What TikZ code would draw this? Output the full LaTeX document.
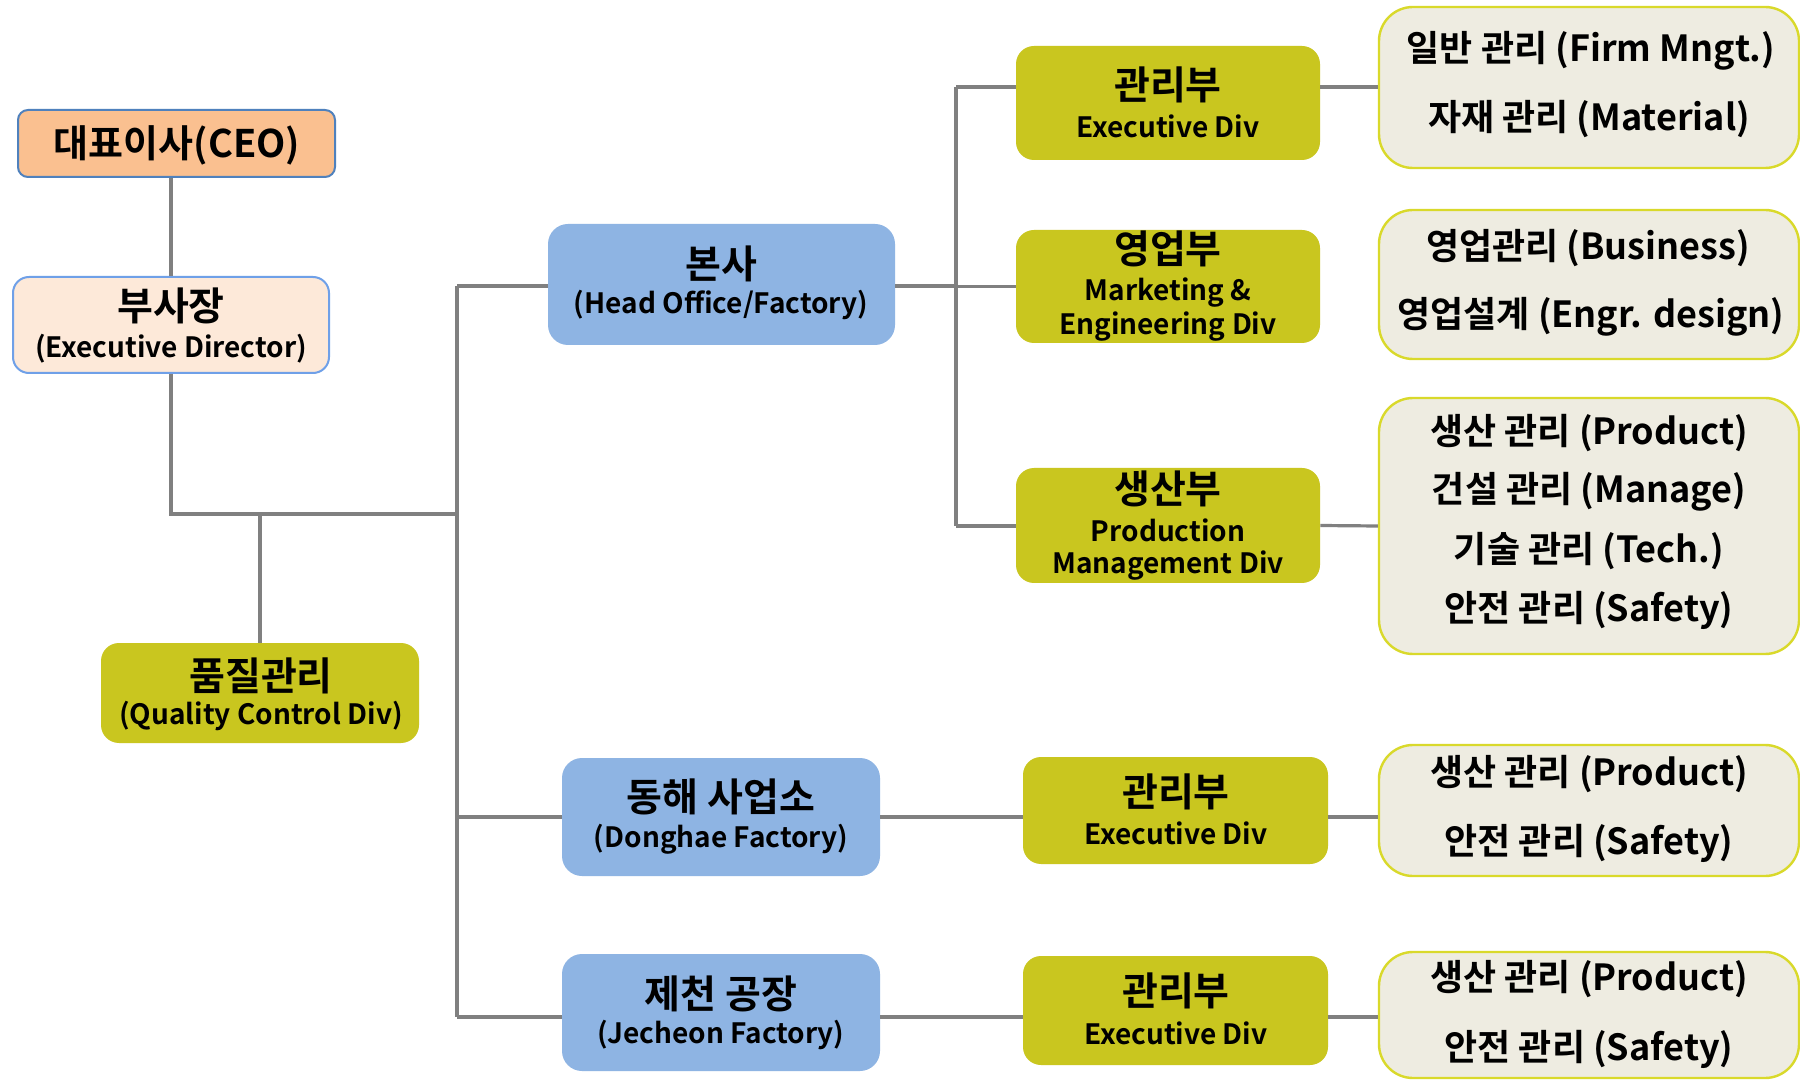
\documentclass[tikz,border=0pt]{standalone}
\usepackage{fontspec}
\setmainfont{Noto Sans CJK KR}[BoldFont={Noto Sans CJK KR Bold}]
\definecolor{ceofill}{HTML}{FAC090}
\definecolor{ceoline}{HTML}{4F81BD}
\definecolor{vpfill}{HTML}{FDE9D9}
\definecolor{vpline}{HTML}{6FA0E8}
\definecolor{bluefill}{HTML}{8EB4E3}
\definecolor{olive}{HTML}{C9C61F}
\definecolor{beige}{HTML}{EEECE1}
\definecolor{yline}{HTML}{D9D92B}
\definecolor{linegray}{HTML}{808080}
\tikzset{
  sz/.style 2 args={minimum width=#1*0.5pt, minimum height=#2*0.5pt},
  boxbase/.style={rectangle, inner sep=0pt},
  ceobox/.style={boxbase, fill=ceofill, draw=ceoline, line width=1pt, rounded corners=5pt},
  vpbox/.style={boxbase, fill=vpfill, draw=vpline, line width=1pt, rounded corners=8pt},
  bluebox/.style={boxbase, fill=bluefill, rounded corners=10pt},
  olivebox/.style={boxbase, fill=olive, rounded corners=9pt},
  listbox/.style={boxbase, fill=beige, draw=yline, line width=1.2pt, rounded corners=17pt},
  kt/.style={inner sep=0pt, font=\fontsize{19.5}{23}\selectfont\bfseries},
  ceot/.style={inner sep=0pt, font=\fontsize{19}{23}\selectfont\bfseries},
  rt/.style={inner sep=0pt, font=\fontsize{18}{22}\selectfont\bfseries},
  et/.style={inner sep=0pt, font=\fontsize{14}{17}\selectfont\bfseries},
  conn/.style={draw=linegray, line width=1.6pt},
}
\begin{document}
\begin{tikzpicture}[x=0.5pt, y=-0.5pt]
\clip (0,0) rectangle (1800,1080);
\fill[white] (0,0) rectangle (1800,1080);
% boxes
\node[ceobox, sz={317}{67}] (ceo) at (176.5,143.5) {};
\node[vpbox, sz={316}{96}] (vp) at (171,325) {};
\node[olivebox, sz={318}{100}] (qc) at (260,693) {};
\node[bluebox, sz={347}{121}] (hq) at (721.5,284.5) {};
\node[bluebox, sz={318}{118}] (dh) at (721,817) {};
\node[bluebox, sz={318}{117}] (jc) at (721,1012.5) {};
\node[olivebox, sz={304}{114}] (ex1) at (1168,103) {};
\node[olivebox, sz={304}{113}] (mk) at (1168,286.5) {};
\node[olivebox, sz={304}{115}] (pr) at (1168,525.5) {};
\node[olivebox, sz={305}{107}] (ex2) at (1175.5,810.5) {};
\node[olivebox, sz={305}{109}] (ex3) at (1175.5,1010.5) {};
\node[listbox, sz={420}{161}] (r1) at (1589,87.5) {};
\node[listbox, sz={420}{149}] (r2) at (1589,284.5) {};
\node[listbox, sz={420}{256}] (r3) at (1589,526) {};
\node[listbox, sz={420}{131}] (r4) at (1589,810.5) {};
\node[listbox, sz={420}{126}] (r5) at (1589,1015) {};
% junction coordinates
\coordinate (j1) at (170,514);
\coordinate (ttop) at (457,286);
\coordinate (tbot) at (457,1017);
\coordinate (utop) at (956,87);
\coordinate (ubot) at (956,526);
% connectors
\draw[conn] (ceo.south -| vp.north) -- (vp.north);
\draw[conn] (vp.south) -- (vp.south |- j1) -- (j1 -| ttop);
\draw[conn] (qc.north) -- (qc.north |- j1);
\draw[conn] (ttop) -- (tbot);
\draw[conn] (ttop) -- (ttop -| hq.west);
\draw[conn] (dh.west -| ttop) -- (dh.west);
\draw[conn] (tbot) -- (tbot -| jc.west);
\draw[conn] (hq.east |- ttop) -- (ttop -| utop);
\draw[conn] (utop) -- (ubot);
\draw[conn] (utop) -- (utop -| ex1.west);
\draw[conn] (mk.west -| utop) -- (mk.west);
\draw[conn] (ubot) -- (ubot -| pr.west);
\draw[conn] (ex1.east |- utop) -- (utop -| r1.west);
\draw[conn] (pr.east) -- (r3.west);
\draw[conn] (dh.east) -- (dh.east -| ex2.west);
\draw[conn] (dh.east -| ex2.east) -- (dh.east -| r4.west);
\draw[conn] (tbot -| jc.east) -- (tbot -| ex3.west);
\draw[conn] (tbot -| ex3.east) -- (tbot -| r5.west);
% texts
\node[ceot] (ceo-t) at (177,145) {대표이사(CEO)};
\node[kt] (vp-t1) at (171,306) {부사장};
\node[et] (vp-t2) at (171,349) {(Executive Director)};
\node[kt] (qc-t1) at (261,676) {품질관리};
\node[et] (qc-t2) at (261,716) {(Quality Control Div)};
\node[kt] (hq-t1) at (721,264) {본사};
\node[et] (hq-t2) at (721,305) {(Head Office/Factory)};
\node[kt] (dh-t1) at (721,797) {동해 사업소};
\node[et] (dh-t2) at (721,839) {(Donghae Factory)};
\node[kt] (jc-t1) at (721,994) {제천 공장};
\node[et] (jc-t2) at (721,1035) {(Jecheon Factory)};
\node[kt] (ex1-t1) at (1168,85) {관리부};
\node[et] (ex1-t2) at (1168,126) {Executive Div};
\node[kt] (mk-t1) at (1168,249) {영업부};
\node[et] (mk-t2) at (1168,293) {Marketing \&};
\node[et] (mk-t3) at (1168,327) {Engineering Div};
\node[kt] (pr-t1) at (1168,489) {생산부};
\node[et] (pr-t2) at (1168,530) {Production};
\node[et] (pr-t3) at (1168,566) {Management Div};
\node[kt] (ex2-t1) at (1176,792) {관리부};
\node[et] (ex2-t2) at (1176,833) {Executive Div};
\node[kt] (ex3-t1) at (1176,991) {관리부};
\node[et] (ex3-t2) at (1176,1033) {Executive Div};
\node[rt] (r1-t1) at (1591,51) {일반 관리 (Firm Mngt.)};
\node[rt] (r1-t2) at (1589,119) {자재 관리 (Material)};
\node[rt] (r2-t1) at (1588,248) {영업관리 (Business)};
\node[rt] (r2-t2) at (1591,317) {영업설계 (Engr. design)};
\node[rt] (r3-t1) at (1589,433) {생산 관리 (Product)};
\node[rt] (r3-t2) at (1589,492) {건설 관리 (Manage)};
\node[rt] (r3-t3) at (1589,551) {기술 관리 (Tech.)};
\node[rt] (r3-t4) at (1589,610) {안전 관리 (Safety)};
\node[rt] (r4-t1) at (1589,774) {생산 관리 (Product)};
\node[rt] (r4-t2) at (1589,843) {안전 관리 (Safety)};
\node[rt] (r5-t1) at (1589,979) {생산 관리 (Product)};
\node[rt] (r5-t2) at (1589,1049) {안전 관리 (Safety)};
\end{tikzpicture}
\end{document}
